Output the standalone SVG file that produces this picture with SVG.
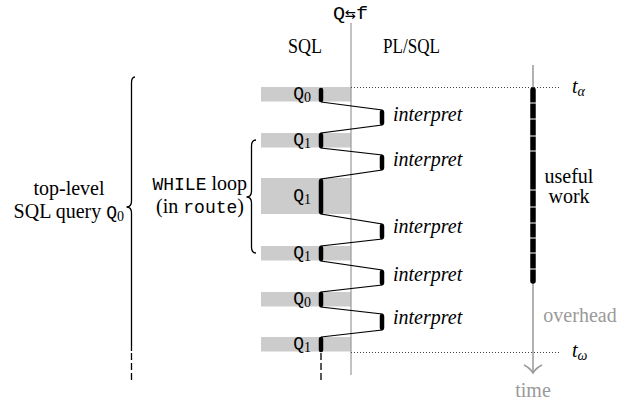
<svg xmlns="http://www.w3.org/2000/svg" width="634" height="404" viewBox="0 0 634 404">
<style>
.serif{font-family:"Liberation Serif","Times New Roman",serif;font-size:20px;fill:#000}
.it{font-family:"Liberation Serif","Times New Roman",serif;font-style:italic;font-size:20px;fill:#000}
.mono{font-family:"Liberation Mono","Courier New",monospace;font-size:18px}
.q{font-family:"Liberation Mono","Courier New",monospace;font-size:18px;fill:#000}
.sub{font-family:"Liberation Serif","Times New Roman",serif;font-size:14px}
.bar{fill:#cccccc}
.thick{stroke:#000;stroke-width:4.5;stroke-linecap:round;fill:none}
.thin{stroke:#000;stroke-width:1.2;fill:none}
.dot{stroke:#444;stroke-width:1;stroke-dasharray:1 2;fill:none}
.brace{stroke:#000;stroke-width:1.3;fill:none}
.dash{stroke:#000;stroke-width:1.3;stroke-dasharray:7 3;fill:none}
</style>

<g id="header">
  <text x="333" y="19" class="q" textLength="35" lengthAdjust="spacingAndGlyphs">Q<tspan font-family="DejaVu Sans Mono,monospace" font-size="16">⇆</tspan>f</text>
  <text x="288" y="53" class="serif" textLength="34" lengthAdjust="spacingAndGlyphs">SQL</text>
  <text x="383" y="53" class="serif" textLength="57" lengthAdjust="spacingAndGlyphs">PL/SQL</text>
</g>

<g id="sql-bars">
  <rect class="bar" x="261" y="87" width="90" height="14.5"/>
  <rect class="bar" x="261" y="133" width="90" height="14.5"/>
  <rect class="bar" x="261" y="178" width="90" height="36"/>
  <rect class="bar" x="261" y="246" width="90" height="14.5"/>
  <rect class="bar" x="261" y="292" width="90" height="14.5"/>
  <rect class="bar" x="261" y="337" width="90" height="14.5"/>
</g>

<g id="q-labels">
  <text class="q" x="311" y="99" text-anchor="end">Q<tspan class="sub" dy="3">0</tspan></text>
  <text class="q" x="311" y="145" text-anchor="end">Q<tspan class="sub" dy="3">1</tspan></text>
  <text class="q" x="311" y="201" text-anchor="end">Q<tspan class="sub" dy="3">1</tspan></text>
  <text class="q" x="311" y="258" text-anchor="end">Q<tspan class="sub" dy="3">1</tspan></text>
  <text class="q" x="311" y="304" text-anchor="end">Q<tspan class="sub" dy="3">0</tspan></text>
  <text class="q" x="311" y="349" text-anchor="end">Q<tspan class="sub" dy="3">1</tspan></text>
</g>

<g id="divider">
  <line x1="351" y1="23" x2="351" y2="375" stroke="#999" stroke-width="1.2"/>
  <line class="dot" x1="351" y1="87.5" x2="560" y2="87.5"/>
  <line class="dot" x1="351" y1="352.5" x2="560" y2="352.5"/>
</g>

<g id="connectors">
  <polyline class="thin" points="321,102 382,110 382,125 321,133 321,148 382,155 382,170 321,179 321,214 382,224 382,239 321,246 321,261 382,270 382,285 321,292 321,307 382,314 382,330 321,337"/>
  <line class="dash" x1="321" y1="353" x2="321" y2="383"/>
</g>

<g id="execution">
  <line class="thick" x1="321" y1="90" x2="321" y2="100"/>
  <line class="thick" x1="382" y1="112" x2="382" y2="123"/>
  <line class="thick" x1="321" y1="135" x2="321" y2="146"/>
  <line class="thick" x1="382" y1="157" x2="382" y2="168"/>
  <line class="thick" x1="321" y1="181" x2="321" y2="212"/>
  <line class="thick" x1="382" y1="226" x2="382" y2="237"/>
  <line class="thick" x1="321" y1="248" x2="321" y2="259"/>
  <line class="thick" x1="382" y1="272" x2="382" y2="283"/>
  <line class="thick" x1="321" y1="294" x2="321" y2="305"/>
  <line class="thick" x1="382" y1="316" x2="382" y2="328"/>
  <line class="thick" x1="321" y1="339" x2="321" y2="350"/>
</g>

<g id="interpret-labels">
  <text class="it" x="393" y="121">interpret</text>
  <text class="it" x="393" y="166">interpret</text>
  <text class="it" x="393" y="233">interpret</text>
  <text class="it" x="393" y="281">interpret</text>
  <text class="it" x="393" y="324">interpret</text>
</g>

<g id="time-axis">
  <line x1="533" y1="65" x2="533" y2="372" stroke="#999" stroke-width="1.5"/>
  <path d="M524,365 Q530,368 533,373 Q536,368 542,365" stroke="#999" stroke-width="1.5" fill="none"/>
  <line x1="533" y1="90" x2="533" y2="281" stroke="#000" stroke-width="5.5" stroke-linecap="round"/>
  <g stroke="#fff" stroke-width="1">
    <line x1="529" y1="103" x2="537" y2="103"/>
    <line x1="529" y1="119" x2="537" y2="119"/>
    <line x1="529" y1="136" x2="537" y2="136"/>
    <line x1="529" y1="151" x2="537" y2="151"/>
    <line x1="529" y1="190" x2="537" y2="190"/>
    <line x1="529" y1="207" x2="537" y2="207"/>
    <line x1="529" y1="223" x2="537" y2="223"/>
    <line x1="529" y1="238" x2="537" y2="238"/>
    <line x1="529" y1="253" x2="537" y2="253"/>
    <line x1="529" y1="269" x2="537" y2="269"/>
  </g>
  <text class="serif" x="569" y="183" text-anchor="middle">useful</text>
  <text class="serif" x="569" y="203" text-anchor="middle">work</text>
  <text class="serif" x="580" y="322" text-anchor="middle" style="fill:#9a9a9a">overhead</text>
  <text class="serif" x="533" y="397" text-anchor="middle" style="fill:#9a9a9a">time</text>
  <text class="it" x="572" y="93">t<tspan font-size="14" dy="3">α</tspan></text>
  <text class="it" x="572" y="357">t<tspan font-size="14" dy="3">ω</tspan></text>
</g>

<g id="while-loop">
  <path class="brace" d="M256,140 Q251.5,140 251.5,146 L251.5,191 Q251.5,197 246.5,197 Q251.5,197 251.5,203 L251.5,247 Q251.5,253 256,253"/>
  <text class="serif" x="247" y="190" text-anchor="end"><tspan class="mono">WHILE</tspan> loop</text>
  <text class="serif" x="244" y="213" text-anchor="end">(in <tspan class="mono">route</tspan>)</text>
</g>

<g id="top-level">
  <path class="brace" d="M135,77 Q131.5,77 131.5,83 L131.5,201 Q131.5,207 126.5,207 Q131.5,207 131.5,213 L131.5,351"/>
  <line class="dash" x1="131.5" y1="353" x2="131.5" y2="383"/>
  <text class="serif" x="69" y="195" text-anchor="middle">top-level</text>
  <text class="serif" x="124" y="218" text-anchor="end">SQL query <tspan class="mono">Q</tspan><tspan class="sub" dy="3">0</tspan></text>
</g>
</svg>
